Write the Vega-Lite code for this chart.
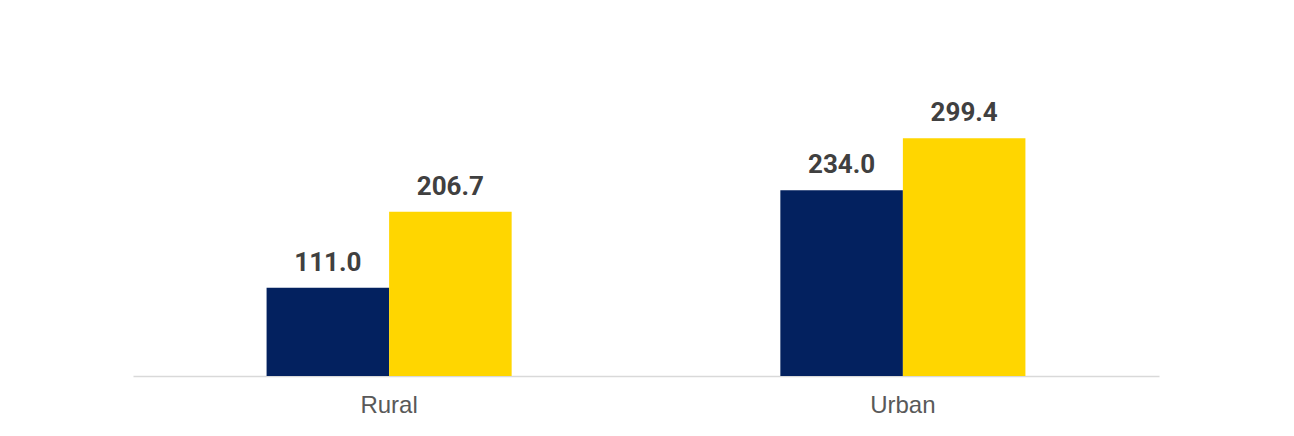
{
  "$schema": "https://vega.github.io/schema/vega-lite/v6.json",
  "autosize": "none",
  "width": 1026,
  "height": 278,
  "padding": {"left": 133, "top": 98, "right": 135, "bottom": 60},
  "background": "white",
  "config": {"view": {"stroke": null}},
  "data": {
    "values": [
      {"area": "Rural", "series": "Series 1", "value": 111.0},
      {"area": "Rural", "series": "Series 2", "value": 206.7},
      {"area": "Urban", "series": "Series 1", "value": 234.0},
      {"area": "Urban", "series": "Series 2", "value": 299.4}
    ]
  },
  "encoding": {
    "x": {
      "field": "area",
      "type": "nominal",
      "scale": {"paddingInner": 0.523, "paddingOuter": 0.26},
      "axis": {
        "title": null,
        "labelAngle": 0,
        "ticks": false,
        "labelPadding": 17,
        "labelFont": "Liberation Sans",
        "labelFontSize": 24,
        "labelColor": "#595959",
        "domainColor": "#d9d9d9",
        "domainWidth": 1.5
      }
    },
    "xOffset": {"field": "series", "type": "nominal", "scale": {"paddingInner": 0, "paddingOuter": 0}},
    "y": {
      "field": "value",
      "type": "quantitative",
      "scale": {"domain": [0, 350], "nice": false},
      "axis": null
    }
  },
  "layer": [
    {
      "mark": {"type": "bar"},
      "encoding": {
        "color": {
          "field": "series",
          "type": "nominal",
          "scale": {"range": ["#03215F", "#FFD600"]},
          "legend": null
        }
      }
    },
    {
      "mark": {
        "type": "text",
        "dy": -17,
        "baseline": "alphabetic",
        "font": "Roboto",
        "fontWeight": "bold",
        "fontSize": 26,
        "color": "#404040"
      },
      "encoding": {
        "text": {"field": "value", "type": "quantitative", "format": ".1f"}
      }
    }
  ]
}
